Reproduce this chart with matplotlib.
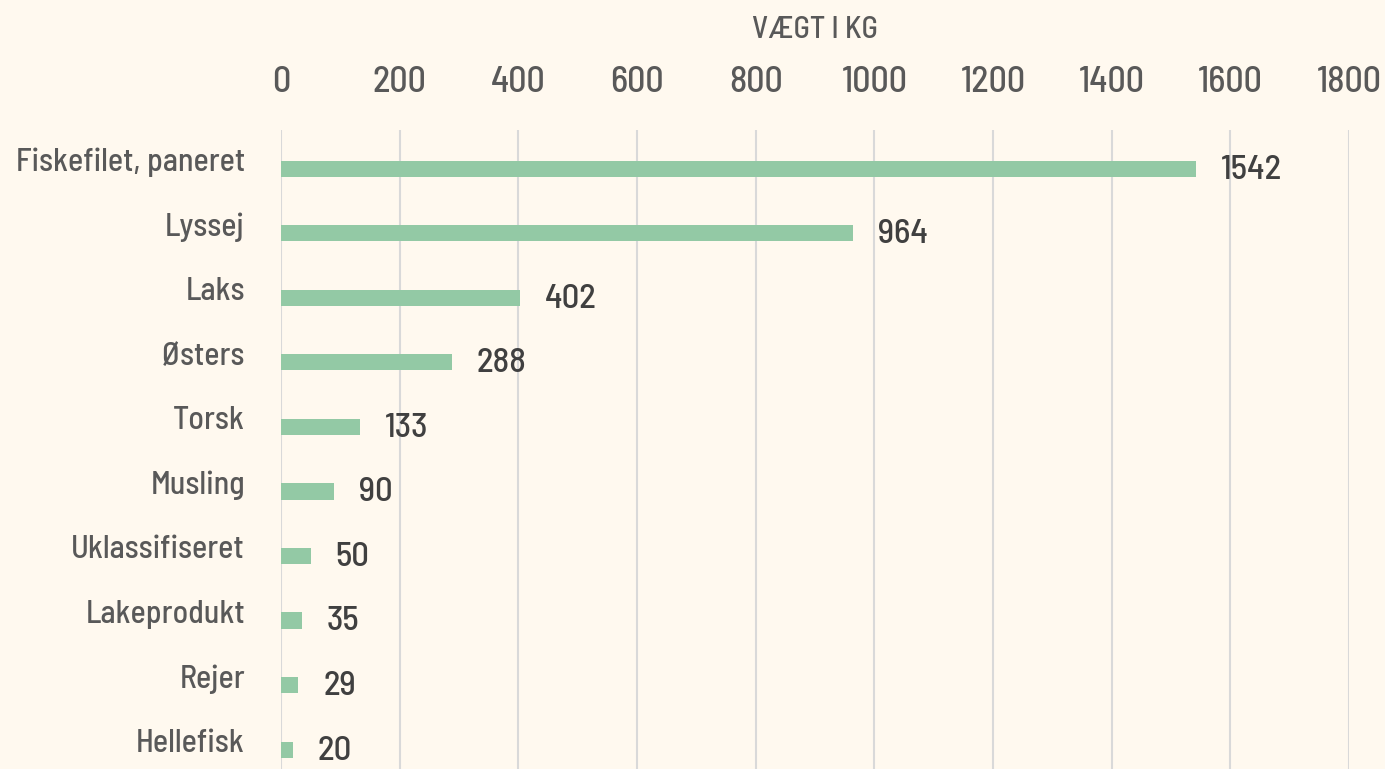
import matplotlib
matplotlib.use("Agg")
import matplotlib.pyplot as plt
import matplotlib.transforms as mtransforms
from matplotlib import font_manager

bg_color = '#FFF9EF'
bar_color = '#93C9A5'
grid_color = '#D9D9D9'
label_color = '#595959'
value_color = '#404040'

categories = ['Fiskefilet, paneret', 'Lyssej', 'Laks', 'Østers', 'Torsk',
              'Musling', 'Uklassifiseret', 'Lakeprodukt', 'Rejer', 'Hellefisk']
weights = [1542, 964, 402, 288, 133, 90, 50, 35, 29, 20]
x_ticks = [0, 200, 400, 600, 800, 1000, 1200, 1400, 1600, 1800]

names = {f.name for f in font_manager.fontManager.ttflist}
family = [f for f in ['Barlow Semi Condensed', 'Barlow Condensed', 'DejaVu Sans'] if f in names]
plt.rcParams['font.family'] = family
condensed = family[0] != 'DejaVu Sans'
k = 1.0 if condensed else 0.72

fig = plt.figure(figsize=(13.85, 7.69), dpi=100, facecolor=bg_color)
ax = fig.add_axes([281/1385, 0, 1068/1385, 639/769])
ax.set_facecolor(bg_color)

ypos = list(range(len(categories)))
ax.barh(ypos, weights, height=0.25, color=bar_color, zorder=3)

for y, w in zip(ypos, weights):
    ax.annotate(str(w), xy=(w, y), xytext=(18, -1), textcoords='offset points',
                ha='left', va='center', fontsize=25 * k, color=value_color,
                fontweight='medium')

ax.set_xlim(0, 1800)
ax.set_ylim(9.3, -0.6)
ax.set_xticks(x_ticks)
ax.xaxis.tick_top()
ax.tick_params(axis='x', length=0, pad=22, labelsize=26 * k, labelcolor=label_color)
ax.set_yticks(ypos)
ax.set_yticklabels(categories)
ax.tick_params(axis='y', length=0, pad=26, labelsize=23 * k, labelcolor=label_color)
shift = mtransforms.ScaledTranslation(0, 9/100, fig.dpi_scale_trans)
for lab in ax.get_yticklabels() + ax.get_xticklabels():
    lab.set_fontweight('medium')
for lab in ax.get_yticklabels():
    lab.set_transform(lab.get_transform() + shift)

ax.grid(True, axis='x', color=grid_color, linewidth=1.5, zorder=0)
for s in ax.spines.values():
    s.set_visible(False)

fig.text(815/1385, 1 - 30/769, 'VÆGT I KG',
         ha='center', va='center', fontsize=22 * k, color=label_color,
         fontweight='medium')

fig.savefig('out.png', dpi=100, facecolor=bg_color)
